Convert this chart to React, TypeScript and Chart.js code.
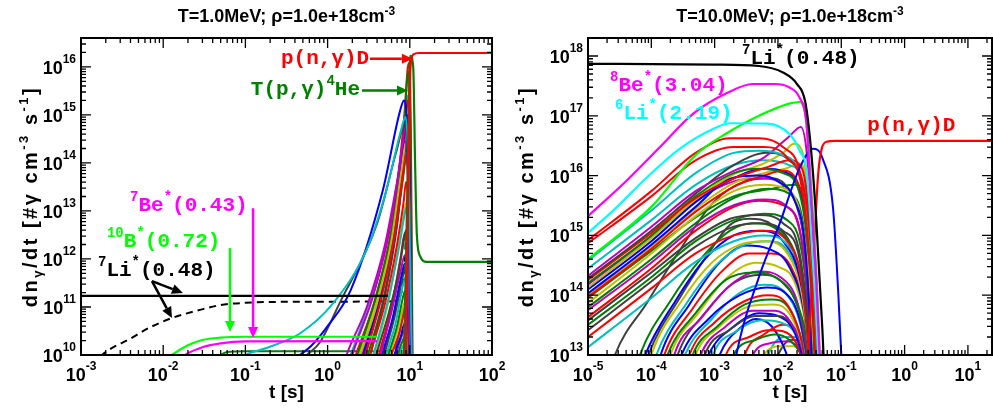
import React, { useEffect, useRef } from "react";
import { Chart, registerables } from "chart.js";

Chart.register(...registerables);

type Pt = [number, number];
type Seg = [string, number]; // 0 normal, 1 superscript, 2 subscript

const COL: Record<string, string> = {
  b: "#0000ff", g: "#008000", r: "#ff0000", c: "#00bfbf",
  m: "#bf00bf", y: "#bfbf00", k: "#404040",
};

/* ================= Left panel : T = 1.0 MeV ================= */
const leftX = [1e-3, 100];
const leftY = [1e10, 4e16];
const leftXTickExps = [-3, -2, -1, 0, 1, 2];
const leftYTickExps = [10, 11, 12, 13, 14, 15, 16];

const leftPnD: Pt[] = [[8.5, 1e8], [9.5, 1e13], [10.2, 1e16], [11, 1.8e16], [13, 1.95e16], [100, 1.95e16]];
const leftTpgHe: Pt[] = [[8.0, 1e8], [9.0, 1e12], [9.7, 1e15], [10.1, 1.7e16], [11.0, 1e16], [11.6, 1e14], [12.2, 3e12], [13.5, 1.1e12], [16, 8.7e11], [100, 8.7e11]];
const leftLi7Solid: Pt[] = [[1e-3, 1.7e11], [5.4, 1.7e11]];
const leftLi7Dashed: Pt[] = [[1.4e-3, 6e9], [1.8e-3, 1e10], [4e-3, 2.2e10], [7e-3, 3.8e10], [1.28e-2, 5.9e10], [2.8e-2, 8.7e10], [5e-2, 1.1e11], [0.1, 1.22e11], [0.3, 1.28e11], [5.2, 1.3e11], [7.5, 1.6e11], [8.6, 6e11], [9.0, 2.5e12], [9.4, 1e12], [10, 1e9]];
const leftB10: Pt[] = [[1.1e-2, 8e9], [1.28e-2, 1e10], [2e-2, 1.6e10], [3e-2, 2.05e10], [5e-2, 2.3e10], [0.1, 2.4e10], [4, 2.4e10]];
const leftBe7: Pt[] = [[1.6e-2, 8e9], [1.85e-2, 1e10], [3e-2, 1.45e10], [5e-2, 1.75e10], [0.1, 1.92e10], [4, 1.95e10]];
const leftGreenFlat: Pt[] = [[0.045, 9e9], [0.06, 1.15e10], [0.1, 1.2e10], [5, 1.2e10], [6.5, 1.4e10], [8, 5e10], [8.8, 1.2e11], [9.6, 1e10], [10.2, 1e9]];
const leftCyan: Pt[] = [[0.085, 8e9], [0.1, 1e10], [0.18, 1.4e10], [0.46, 2.8e10], [1.17, 1.2e11], [3, 1.6e12], [5.2, 2.7e13], [7.6, 4e14], [8.9, 9e14], [9.6, 1e14], [10.3, 1e11], [10.8, 1e9]];
const leftBlue: Pt[] = [[0.4, 8e9], [0.46, 1e10], [0.62, 1.5e10], [1.0, 4e10], [1.9, 2.2e11], [4.7, 2.7e13], [7.6, 1.2e15], [8.5, 2e15], [9.3, 5e14], [10.2, 1e11], [10.8, 1e9]];
const leftGray: Pt[] = [[0.5, 8e9], [0.56, 1e10], [0.8, 1.8e10], [1.4, 1.2e11], [4, 5.5e12], [6.9, 1.8e14], [8.8, 6.6e14], [9.6, 8e13], [10.4, 1e11], [10.9, 1e9]];

const leftBundleColors = "mmyrrbgrckymbkcrrgyrbmgckgrycm".split("");
const leftBundle: Pt[][] = [
  [[1.5, 5e9], [1.7, 1e10], [3, 1e11], [5, 2e12], [7, 4e13], [8.6, 3e14], [9.6, 2e13], [10.5, 1e9]],
  [[1.8, 5e9], [2.0, 1e10], [3.5, 1.5e11], [5.5, 3e12], [7.5, 8e13], [9.0, 6e14], [9.8, 5e13], [10.6, 1e9]],
  [[2.2, 5e9], [2.5, 1e10], [4, 1.2e11], [6, 2.5e12], [8, 8e13], [9.1, 3e14], [9.9, 1e13], [10.6, 1e9]],
  [[2.6, 5e9], [2.9, 1e10], [4.5, 1.5e11], [6.5, 3e12], [8.2, 5e13], [9.0, 1.5e14], [9.8, 1e13], [10.5, 1e9]],
  [[3, 5e9], [3.3, 1e10], [5, 1.2e11], [7, 2e12], [8.4, 1.5e13], [9.0, 4e13], [9.8, 3e12], [10.4, 1e9]],
  [[2.4, 5e9], [2.7, 1e10], [4.2, 1.3e11], [6.2, 3e12], [8, 1e14], [9.2, 1e15], [9.9, 1e14], [10.7, 1e9]],
  [[2.0, 5e9], [2.3, 1e10], [4, 2e11], [6.5, 8e12], [8.5, 5e14], [9.6, 8e15], [10.2, 3e14], [10.8, 1e9]],
  [[1.9, 5e9], [2.2, 1e10], [4, 2e11], [6.5, 1e13], [8.5, 8e14], [9.7, 1.2e16], [10.3, 5e14], [10.9, 1e9]],
  [[3.2, 5e9], [3.6, 1e10], [5.5, 1.5e11], [7.5, 2e12], [8.6, 8e12], [9.1, 1.2e13], [9.8, 1e12], [10.4, 1e9]],
  [[3.5, 5e9], [3.9, 1e10], [5.6, 8e10], [7.4, 6e11], [8.5, 2.5e12], [9.0, 4e12], [9.7, 3e11], [10.3, 1e9]],
  [[3.3, 5e9], [3.7, 1e10], [5.5, 1.3e11], [7.5, 2.5e12], [8.6, 1e13], [9.1, 1.5e13], [9.8, 1e12], [10.4, 1e9]],
  [[4, 5e9], [4.4, 1e10], [6, 8e10], [7.8, 6e11], [8.7, 1.2e12], [9.6, 1e11], [10.3, 1e9]],
  [[4.2, 5e9], [4.6, 1e10], [6.2, 6e10], [7.8, 4e11], [8.7, 8e11], [9.6, 6e10], [10.2, 1e9]],
  [[4.5, 5e9], [4.9, 1e10], [6.5, 6e10], [8, 3.5e11], [8.8, 6e11], [9.6, 5e10], [10.2, 1e9]],
  [[4.8, 5e9], [5.2, 1e10], [6.8, 5e10], [8.1, 2.5e11], [8.8, 4e11], [9.6, 3e10], [10.2, 1e9]],
  [[3.8, 5e9], [4.2, 1e10], [6, 1e11], [7.8, 1.2e12], [8.7, 3.5e12], [9.7, 2e11], [10.3, 1e9]],
  [[4.3, 5e9], [4.7, 1e10], [6.5, 7e10], [8, 4e11], [8.8, 7e11], [9.6, 5e10], [10.2, 1e9]],
  [[5, 5e9], [5.5, 1e10], [7, 4e10], [8.2, 1.5e11], [8.8, 2.2e11], [9.6, 2e10], [10.1, 1e9]],
  [[5.2, 5e9], [5.7, 1e10], [7.2, 3.5e10], [8.3, 1e11], [8.8, 1.3e11], [9.6, 1.5e10], [10.1, 1e9]],
  [[5.5, 5e9], [6, 1e10], [7.5, 3e10], [8.4, 7e10], [8.9, 8e10], [9.6, 1.2e10], [10.1, 1e9]],
  [[6, 5e9], [6.5, 1e10], [7.8, 2.5e10], [8.6, 4.5e10], [9.6, 1e10], [10.1, 1e9]],
  [[6.3, 5e9], [6.8, 1e10], [8, 2.5e10], [8.8, 3.5e10], [9.7, 8e9]],
  [[6.8, 5e9], [7.2, 1e10], [8.2, 2e10], [8.8, 2.5e10], [9.7, 6e9]],
  [[7, 5e9], [7.5, 1e10], [8.4, 1.6e10], [8.9, 1.8e10], [9.8, 5e9]],
  [[3.0, 5e9], [3.3, 1e10], [5, 1.8e11], [7, 5e12], [8.5, 1.2e14], [9.3, 3e14], [10, 1e13], [10.6, 1e9]],
  [[2.8, 5e9], [3.1, 1e10], [4.8, 1.5e11], [6.8, 4e12], [8.3, 5e13], [9.2, 1.6e14], [9.9, 8e12], [10.5, 1e9]],
  [[2.5, 5e9], [2.8, 1e10], [4.5, 2e11], [6.8, 6e12], [8.5, 2.5e14], [9.4, 2e15], [10.1, 8e13], [10.7, 1e9]],
  [[2.1, 5e9], [2.4, 1e10], [4, 1.6e11], [6.5, 5e12], [8.4, 2e14], [9.3, 1e15], [10, 5e13], [10.7, 1e9]],
  [[1.6, 5e9], [1.9, 1e10], [3.5, 2e11], [6, 7e12], [8.2, 3e14], [9.3, 2.5e15], [10.1, 1e14], [10.8, 1e9]],
  [[2.3, 5e9], [2.6, 1e10], [4.3, 1.8e11], [6.5, 5e12], [8.4, 1.5e14], [9.4, 5e14], [10, 2e13], [10.6, 1e9]],
];

/* ================= Right panel : T = 10.0 MeV ================= */
const rightX = [1e-5, 24];
const rightY = [1e13, 2e18];
const rightXTickExps = [-5, -4, -3, -2, -1, 0, 1];
const rightYTickExps = [13, 14, 15, 16, 17, 18];

const rightLi7: Pt[] = [[1e-5, 7.4e17], [1e-3, 7.2e17], [5e-3, 6.8e17], [1.2e-2, 5.3e17], [2e-2, 3.4e17], [2.7e-2, 1.7e17], [3.3e-2, 3e16], [4e-2, 2e15], [5e-2, 3e13], [5.8e-2, 1e12]];
const rightBe8: Pt[] = [[1e-5, 2.1e15], [4.1e-5, 8.3e15], [1.37e-4, 3e16], [4.5e-4, 1.07e17], [1.56e-3, 2.4e17], [4e-3, 3.4e17], [9e-3, 3.4e17], [1.5e-2, 3e17], [2.2e-2, 2e17], [2.8e-2, 8e16], [3.3e-2, 5e15], [4e-2, 2e14], [5e-2, 1e12]];
const rightLi6: Pt[] = [[1e-5, 1.1e15], [2.5e-5, 2.6e15], [8.5e-5, 9.3e15], [2.8e-4, 2.8e16], [9.4e-4, 6e16], [1.75e-3, 7.5e16], [6.7e-3, 7.4e16], [1.5e-2, 5e16], [2.2e-2, 2.6e16], [2.9e-2, 1e16], [3.5e-2, 5e14], [4.3e-2, 1e13], [5e-2, 1e11]];
const rightLime: Pt[] = [[1e-5, 4e14], [1e-4, 3e15], [5e-4, 2.2e16], [1.5e-3, 5e16], [5e-3, 1e17], [1.5e-2, 1.6e17], [2.2e-2, 1.7e17], [2.8e-2, 8e16], [3.4e-2, 5e15], [4.2e-2, 1e14], [5e-2, 1e12]];
const rightPnD: Pt[] = [[2e-2, 1e10], [3e-2, 1e13], [3.8e-2, 1e15], [4.3e-2, 1e16], [4.9e-2, 2.8e16], [6e-2, 3.7e16], [8e-2, 3.8e16], [24, 3.8e16]];
const rightBlue: Pt[] = [[2e-3, 5e12], [2.2e-3, 1e13], [5e-3, 2e14], [1.07e-2, 1.6e15], [2.2e-2, 1.35e16], [3.6e-2, 2.8e16], [5e-2, 2e16], [7.4e-2, 2.9e15], [9e-2, 1e14], [0.1, 1e13], [0.11, 1e12]];
const rightGray: Pt[] = [[2.2e-5, 5e12], [2.66e-5, 1e13], [8.5e-5, 7.4e13], [2.8e-4, 5.6e14], [9.4e-4, 3.5e15], [3e-3, 8e15], [8e-3, 9e15], [1.6e-2, 5e15], [2.5e-2, 1e15], [3.2e-2, 3e13], [3.8e-2, 1e12]];

const rightBundleAColors = "rrcmkrgybryg mrkgkrcbcygm".replace(/ /g, "").split("");
const rightBundleA: Pt[][] = [
  [[1e-5, 8.3e14], [1e-4, 5.5e15], [5e-4, 2.4e16], [1.75e-3, 4.2e16], [5e-3, 4.2e16], [1.2e-2, 3e16], [2.2e-2, 1.2e16], [3.2e-2, 1e15], [4.2e-2, 1e13], [5e-2, 1e11]],
  [[1e-5, 7.4e14], [1e-4, 4.5e15], [5e-4, 1.8e16], [2e-3, 3e16], [6e-3, 3e16], [1.4e-2, 2e16], [2.4e-2, 6e15], [3.3e-2, 2e14], [4e-2, 5e12], [4.6e-2, 1e11]],
  [[1e-5, 3.8e14], [1e-4, 2.6e15], [5e-4, 1.1e16], [2e-3, 2.4e16], [5e-3, 2.6e16], [1.2e-2, 2.2e16], [2.2e-2, 1e16], [3.1e-2, 1e15], [3.9e-2, 2e13], [4.6e-2, 1e11]],
  [[1e-5, 2.1e14], [1e-4, 1.4e15], [5e-4, 5.5e15], [2e-3, 1.2e16], [6e-3, 2e16], [1.5e-2, 4.5e16], [2.3e-2, 6.5e16], [2.9e-2, 2e16], [3.6e-2, 5e14], [4.4e-2, 1e12]],
  [[1e-5, 1.9e14], [1e-4, 1.2e15], [5e-4, 5e15], [2e-3, 1.5e16], [6.7e-3, 2.4e16], [1.5e-2, 1.8e16], [2.5e-2, 6e15], [3.3e-2, 3e14], [4e-2, 5e12], [4.6e-2, 1e11]],
  [[1e-5, 1.8e14], [1e-4, 1.1e15], [5e-4, 4.2e15], [2e-3, 9e15], [7e-3, 1.4e16], [1.5e-2, 1.8e16], [2.4e-2, 1.3e16], [3.3e-2, 1e15], [4.2e-2, 1e13], [4.9e-2, 1e11]],
  [[1e-5, 1.6e14], [1e-4, 1e15], [5e-4, 4.5e15], [2e-3, 1.1e16], [5e-3, 1.3e16], [1.2e-2, 1.1e16], [2.2e-2, 5e15], [3.1e-2, 4e14], [3.8e-2, 1e13], [4.4e-2, 1e11]],
  [[1e-5, 1.35e14], [1e-4, 9e14], [5e-4, 4e15], [2e-3, 1.05e16], [6e-3, 1.6e16], [1.2e-2, 2.4e16], [1.8e-2, 3.4e16], [2.4e-2, 2.6e16], [3.1e-2, 3e15], [3.8e-2, 3e13], [4.5e-2, 1e11]],
  [[1e-5, 1.07e14], [1e-4, 7e14], [5e-4, 3e15], [1.75e-3, 8.9e15], [5e-3, 1e16], [1e-2, 8e15], [1.8e-2, 4e15], [2.7e-2, 6e14], [3.4e-2, 1e13], [4e-2, 1e11]],
  [[1e-5, 9.3e13], [1e-4, 6e14], [5e-4, 2.5e15], [2e-3, 6.5e15], [6e-3, 1e16], [1.2e-2, 1.2e16], [2e-2, 8e15], [2.9e-2, 1.5e15], [3.7e-2, 3e13], [4.3e-2, 1e11]],
  [[1e-5, 7.4e13], [1e-4, 5e14], [5e-4, 2.1e15], [2e-3, 5.5e15], [6e-3, 7e15], [1.3e-2, 6e15], [2.2e-2, 2.5e15], [3.1e-2, 2e14], [3.8e-2, 5e12], [4.3e-2, 1e11]],
  [[1e-5, 6.3e13], [1e-4, 4e14], [5e-4, 1.6e15], [2e-3, 4.2e15], [7e-3, 6e15], [1.5e-2, 5e15], [2.4e-2, 2e15], [3.3e-2, 1e14], [4e-2, 1e12]],
  [[1e-5, 5.6e13], [1e-4, 3.5e14], [5e-4, 1.4e15], [2e-3, 3.2e15], [6e-3, 4e15], [1.4e-2, 3e15], [2.3e-2, 1e15], [3.1e-2, 5e13], [3.8e-2, 1e12]],
  [[1e-5, 4.3e13], [1e-4, 2.8e14], [5e-4, 1.2e15], [2e-3, 3e15], [5e-3, 3.8e15], [1.2e-2, 3.2e15], [2.2e-2, 1.2e15], [3.1e-2, 6e13], [3.8e-2, 1e12]],
  [[1e-5, 3.8e13], [1e-4, 2.4e14], [5e-4, 9e14], [1.75e-3, 1.9e15], [5e-3, 2.2e15], [1.2e-2, 1.6e15], [2.2e-2, 5e14], [3.1e-2, 2e13], [3.7e-2, 1e12]],
  [[1e-5, 3.2e13], [1e-4, 2e14], [5e-4, 8e14], [2e-3, 1.8e15], [6e-3, 2.3e15], [1.4e-2, 1.8e15], [2.4e-2, 5e14], [3.3e-2, 2e13], [4e-2, 1e12]],
  [[1e-5, 2.6e13], [1e-4, 1.7e14], [5e-4, 6.5e14], [2e-3, 1.4e15], [5e-3, 1.6e15], [1.2e-2, 1.2e15], [2.2e-2, 4e14], [3.1e-2, 2e13], [3.7e-2, 1e12]],
  [[1e-5, 2e13], [1e-4, 1.3e14], [5e-4, 5e14], [2e-3, 1e15], [6e-3, 1.2e15], [1.4e-2, 8e14], [2.3e-2, 2e14], [3.1e-2, 1e13], [3.6e-2, 1e12]],
  [[1e-5, 1.35e13], [1e-4, 9e13], [5e-4, 3.6e14], [2e-3, 8e14], [6e-3, 1e15], [1.4e-2, 7e14], [2.3e-2, 2e14], [3.1e-2, 1e13], [3.6e-2, 1e12]],
  [[1e-5, 1.25e14], [1e-4, 8e14], [5e-4, 3.6e15], [2e-3, 9e15], [6e-3, 1.3e16], [1.4e-2, 1.1e16], [2.4e-2, 4e15], [3.3e-2, 2e14], [4e-2, 2e12]],
  [[1e-5, 2.8e14], [1e-4, 1.8e15], [5e-4, 7e15], [2e-3, 1.5e16], [6e-3, 1.8e16], [1.5e-2, 1.5e16], [2.5e-2, 8e15], [3.3e-2, 8e14], [4.1e-2, 1e13], [4.8e-2, 1e11]],
  [[1e-5, 1e14], [1e-4, 6.6e14], [5e-4, 2.8e15], [2e-3, 7.5e15], [6e-3, 1.1e16], [1.3e-2, 1.3e16], [2.2e-2, 1.6e16], [2.8e-2, 8e15], [3.5e-2, 4e14], [4.2e-2, 5e12], [4.8e-2, 1e11]],
  [[1e-5, 9e13], [1e-4, 5.5e14], [5e-4, 2e15], [2e-3, 4.5e15], [8e-3, 6e15], [1.8e-2, 7e15], [2.6e-2, 4e15], [3.4e-2, 2e14], [4.1e-2, 2e12]],
  [[1e-5, 1.5e14], [1e-4, 9.5e14], [5e-4, 3.8e15], [2e-3, 8e15], [6e-3, 9e15], [1.2e-2, 7e15], [2e-2, 3e15], [2.9e-2, 3e14], [3.6e-2, 5e12]],
];

const rightBundleBColors = "gbkycbrgymkbcrgymkbcrgrbmykc".split("");
const rightBundleB: Pt[][] = [
  [[5.5e-5, 5e12], [6.6e-5, 1e13], [2e-4, 8e13], [6e-4, 4e14], [1.75e-3, 1.2e15], [4e-3, 1.6e15], [1e-2, 1.2e15], [2e-2, 4e14], [3.2e-2, 3e13], [4e-2, 1e12]],
  [[6.5e-5, 5e12], [8e-5, 1e13], [2.4e-4, 8e13], [7e-4, 4e14], [2e-3, 1e15], [5e-3, 1.2e15], [1.2e-2, 8e14], [2.2e-2, 2e14], [3.2e-2, 1.5e13], [3.8e-2, 1e12]],
  [[7.5e-5, 5e12], [9e-5, 1e13], [2.8e-4, 9e13], [8e-4, 5e14], [1.75e-3, 1.5e15], [3.5e-3, 1.9e15], [8e-3, 1.5e15], [1.8e-2, 5e14], [3e-2, 3e13], [3.7e-2, 1e12]],
  [[8.5e-5, 5e12], [1e-4, 1e13], [3e-4, 8e13], [9e-4, 3.5e14], [2.5e-3, 7e14], [6e-3, 8e14], [1.4e-2, 5e14], [2.4e-2, 1e14], [3.4e-2, 5e12]],
  [[1e-4, 5e12], [1.2e-4, 1e13], [3.5e-4, 7e13], [1e-3, 3e14], [3e-3, 7e14], [7e-3, 8e14], [1.5e-2, 5e14], [2.5e-2, 1e14], [3.5e-2, 5e12]],
  [[1.2e-4, 5e12], [1.4e-4, 1e13], [4e-4, 7e13], [1.2e-3, 3.5e14], [3.2e-3, 6.8e14], [7e-3, 6e14], [1.5e-2, 3e14], [2.6e-2, 5e13], [3.5e-2, 3e12]],
  [[1.35e-4, 5e12], [1.6e-4, 1e13], [4.5e-4, 6e13], [1.3e-3, 2.5e14], [3.5e-3, 5e14], [8e-3, 5e14], [1.6e-2, 3e14], [2.7e-2, 5e13], [3.7e-2, 3e12]],
  [[1.5e-4, 5e12], [1.8e-4, 1e13], [5e-4, 5e13], [1.5e-3, 1.8e14], [4e-3, 2.4e14], [9e-3, 2e14], [1.8e-2, 9e13], [2.9e-2, 1.5e13], [3.7e-2, 1e12]],
  [[1.7e-4, 5e12], [2e-4, 1e13], [5.5e-4, 5e13], [1.6e-3, 2e14], [4.5e-3, 3.5e14], [1e-2, 3e14], [1.9e-2, 1.5e14], [2.9e-2, 2e13], [3.7e-2, 1e12]],
  [[2e-4, 5e12], [2.3e-4, 1e13], [6e-4, 4e13], [1.8e-3, 1.5e14], [5e-3, 2.5e14], [1.1e-2, 2e14], [2e-2, 8e13], [3.2e-2, 8e12]],
  [[2.2e-4, 5e12], [2.6e-4, 1e13], [7e-4, 5e13], [2e-3, 1.6e14], [5.5e-3, 2.2e14], [1.2e-2, 1.6e14], [2.2e-2, 5e13], [3.2e-2, 5e12]],
  [[2.5e-4, 5e12], [3e-4, 1e13], [8e-4, 4e13], [2.5e-3, 1e14], [6.7e-3, 1.35e14], [1.3e-2, 1.1e14], [2.2e-2, 4e13], [3.2e-2, 5e12]],
  [[2.8e-4, 5e12], [3.4e-4, 1e13], [9e-4, 4e13], [2.5e-3, 1.1e14], [6e-3, 1.5e14], [1.3e-2, 1.1e14], [2.3e-2, 3e13], [3.3e-2, 3e12]],
  [[3.4e-4, 5e12], [4e-4, 1e13], [1e-3, 3.5e13], [3e-3, 8e13], [7e-3, 1e14], [1.4e-2, 7e13], [2.3e-2, 2e13], [3.2e-2, 3e12]],
  [[3.8e-4, 5e12], [4.5e-4, 1e13], [1.1e-3, 3e13], [3e-3, 7e13], [8e-3, 8.5e13], [1.5e-2, 6e13], [2.4e-2, 1.6e13], [3.3e-2, 2e12]],
  [[4.2e-4, 5e12], [5e-4, 1e13], [1.2e-3, 3e13], [3.5e-3, 6.5e13], [8e-3, 7e13], [1.5e-2, 5e13], [2.4e-2, 1.5e13], [3.2e-2, 3e12]],
  [[5e-4, 5e12], [6e-4, 1e13], [1.5e-3, 3e13], [4e-3, 5.5e13], [9e-3, 5.5e13], [1.6e-2, 3.5e13], [2.5e-2, 1.1e13], [3.2e-2, 2e12]],
  [[6e-4, 5e12], [7e-4, 1e13], [1.7e-3, 2.6e13], [4.5e-3, 4.5e13], [1e-2, 4.5e13], [1.8e-2, 2.8e13], [2.7e-2, 8e12], [3.4e-2, 1e12]],
  [[6.5e-4, 5e12], [8e-4, 1e13], [2e-3, 3e13], [5e-3, 5e13], [1e-2, 4.5e13], [1.8e-2, 2.5e13], [2.8e-2, 6e12]],
  [[8e-4, 5e12], [9.4e-4, 1e13], [2.2e-3, 2.5e13], [5.5e-3, 3.8e13], [1.1e-2, 3.5e13], [2e-2, 2e13], [3e-2, 5e12]],
  [[1.3e-3, 5e12], [1.5e-3, 1e13], [3.5e-3, 2e13], [7e-3, 2.6e13], [1.2e-2, 2.5e13], [2e-2, 1.5e13], [3e-2, 4e12]],
  [[1.7e-3, 5e12], [2e-3, 1e13], [4.5e-3, 1.8e13], [9e-3, 2.2e13], [1.5e-2, 1.8e13], [2.3e-2, 1e13], [3.2e-2, 3e12]],
  [[2.6e-3, 5e12], [3e-3, 1e13], [6e-3, 2.2e13], [1.2e-2, 3.2e13], [2e-2, 2.5e13], [2.8e-2, 1e13], [3.6e-2, 2e12]],
  [[1e-3, 5e12], [1.2e-3, 1e13], [2.5e-3, 2.8e13], [4.5e-3, 4e13], [8e-3, 3e13], [1.3e-2, 1.2e13], [1.8e-2, 4e12]],
  [[3.4e-3, 5e12], [4e-3, 1e13], [8e-3, 1.6e13], [1.4e-2, 1.7e13], [2.2e-2, 1.2e13], [3e-2, 5e12]],
  [[5e-3, 5e12], [6e-3, 1e13], [1.1e-2, 1.4e13], [1.8e-2, 1.4e13], [2.6e-2, 8e12], [3.2e-2, 3e12]],
  [[8e-3, 5e12], [1e-2, 1e13], [1.6e-2, 1.8e13], [2.4e-2, 1.6e13], [3.2e-2, 8e12], [4e-2, 2e12]],
  [[6e-3, 5e12], [7e-3, 1e13], [1.3e-2, 2e13], [2.2e-2, 2e13], [3.2e-2, 1e13], [4.2e-2, 2e12]],
];

/* ================= Text / annotation definitions ================= */
const SANS = '"Liberation Sans", Arial, Helvetica, sans-serif';
const MONO = '"Liberation Mono", "Courier New", monospace';

const yTitleSegs: Seg[] = [["dn", 0], ["γ", 2], ["/dt [#", 0], ["γ", 0], [" cm", 0], ["-3", 1], [" s", 0], ["-1", 1], ["]", 0]];

type Ann =
  | { kind: "text"; segs: Seg[]; at: Pt; align: "left" | "right"; color: string }
  | { kind: "arrow"; from: Pt; to: Pt; color: string };

const leftAnnotations: Ann[] = [
  { kind: "text", segs: [["p(n,γ)D", 0]], at: [0.271, 1.17e16], align: "left", color: "#ff0000" },
  { kind: "arrow", from: [3.28, 1.48e16], to: [10.9, 1.48e16], color: "#ff0000" },
  { kind: "text", segs: [["T(p,γ)", 0], ["4", 1], ["He", 0]], at: [2.48, 2.54e15], align: "right", color: "#008000" },
  { kind: "arrow", from: [2.62, 3.24e15], to: [9.5, 3.24e15], color: "#008000" },
  { kind: "text", segs: [["7", 1], ["Be", 0], ["*", 1], ["(0.43)", 0]], at: [3.95e-3, 9.9e12], align: "left", color: "#ff00ff" },
  { kind: "arrow", from: [0.124, 1.14e13], to: [0.124, 2.25e10], color: "#ff00ff" },
  { kind: "text", segs: [["10", 1], ["B", 0], ["*", 1], ["(0.72)", 0]], at: [2.07e-3, 1.76e12], align: "left", color: "#00ff00" },
  { kind: "arrow", from: [0.065, 1.68e12], to: [0.065, 3e10], color: "#00ff00" },
  { kind: "text", segs: [["7", 1], ["Li", 0], ["*", 1], ["(0.48)", 0]], at: [1.61e-3, 4.38e11], align: "left", color: "#000000" },
  { kind: "arrow", from: [7.3e-3, 3.45e11], to: [1.74e-2, 1.95e11], color: "#000000" },
  { kind: "arrow", from: [7.3e-3, 3.45e11], to: [1.28e-2, 5.9e10], color: "#000000" },
];

const rightAnnotations: Ann[] = [
  { kind: "text", segs: [["7", 1], ["Li", 0], ["*", 1], ["(0.48)", 0]], at: [2.71e-3, 7.36e17], align: "left", color: "#000000" },
  { kind: "text", segs: [["8", 1], ["Be", 0], ["*", 1], ["(3.04)", 0]], at: [2.23e-5, 2.61e17], align: "left", color: "#ff00ff" },
  { kind: "text", segs: [["6", 1], ["Li", 0], ["*", 1], ["(2.19)", 0]], at: [2.67e-5, 8.9e16], align: "left", color: "#00ffff" },
  { kind: "text", segs: [["p(n,γ)D", 0]], at: [0.256, 5.6e16], align: "left", color: "#ff0000" },
];

/* ================= Drawing helpers ================= */
function drawRich(
  ctx: CanvasRenderingContext2D, segs: Seg[], x: number, y: number,
  align: "left" | "center" | "right", fam: string, size: number, small: number,
  rise: number, drop: number, color: string, spacing = 0
) {
  const fontFor = (k: number) => `bold ${k === 0 ? size : small}px ${fam}`;
  const widths = segs.map(([t, k]) => {
    ctx.font = fontFor(k);
    if (!spacing) return ctx.measureText(t).width;
    let w = 0;
    for (const ch of t) w += ctx.measureText(ch).width + spacing;
    return w;
  });
  const total = widths.reduce((s, w) => s + w, 0);
  let cx = align === "left" ? x : align === "center" ? x - total / 2 : x - total;
  ctx.fillStyle = color;
  ctx.textAlign = "left";
  ctx.textBaseline = "alphabetic";
  segs.forEach(([t, k], i) => {
    ctx.font = fontFor(k);
    const yy = y + (k === 1 ? -rise : k === 2 ? drop : 0);
    if (spacing) {
      let px = cx;
      for (const ch of t) {
        ctx.fillText(ch, px, yy);
        px += ctx.measureText(ch).width + spacing;
      }
    } else ctx.fillText(t, cx, yy);
    cx += widths[i];
  });
}

function drawArrow(ctx: CanvasRenderingContext2D, x0: number, y0: number, x1: number, y1: number, color: string) {
  const ang = Math.atan2(y1 - y0, x1 - x0);
  const L = 11, W = 5;
  const bx = x1 - L * Math.cos(ang), by = y1 - L * Math.sin(ang);
  ctx.strokeStyle = color;
  ctx.lineWidth = 2.5;
  ctx.beginPath();
  ctx.moveTo(x0, y0);
  ctx.lineTo(bx, by);
  ctx.stroke();
  ctx.fillStyle = color;
  ctx.beginPath();
  ctx.moveTo(x1, y1);
  ctx.lineTo(bx - W * Math.sin(ang), by + W * Math.cos(ang));
  ctx.lineTo(bx + W * Math.sin(ang), by - W * Math.cos(ang));
  ctx.closePath();
  ctx.fill();
}

type PanelCfg = {
  xRange: number[]; yRange: number[]; xExps: number[]; yExps: number[];
  title: Seg[]; yTitleX: number; anns: Ann[]; datasets: any[];
  padding: { left: number; right: number; top: number; bottom: number };
};

function makeDecor(cfg: PanelCfg) {
  return {
    id: "decor",
    afterDatasetsDraw(chart: any) {
      const ctx: CanvasRenderingContext2D = chart.ctx;
      const a = chart.chartArea;
      const xs = chart.scales.x, ys = chart.scales.y;
      ctx.save();
      // minor/major ticks, inward on all four sides
      ctx.strokeStyle = "#000";
      ctx.lineWidth = 1.3;
      const ticks = (scale: any, min: number, max: number, horiz: boolean) => {
        for (let d = Math.floor(Math.log10(min)); d <= Math.ceil(Math.log10(max)); d++) {
          for (let k = 1; k <= 9; k++) {
            const v = k * Math.pow(10, d);
            if (v < min * 0.999 || v > max * 1.001) continue;
            const p = scale.getPixelForValue(v);
            const len = k === 1 ? 10 : 5;
            ctx.beginPath();
            if (horiz) {
              ctx.moveTo(p, a.bottom); ctx.lineTo(p, a.bottom - len);
              ctx.moveTo(p, a.top); ctx.lineTo(p, a.top + len);
            } else {
              ctx.moveTo(a.left, p); ctx.lineTo(a.left + len, p);
              ctx.moveTo(a.right, p); ctx.lineTo(a.right - len, p);
            }
            ctx.stroke();
          }
        }
      };
      ticks(xs, cfg.xRange[0], cfg.xRange[1], true);
      ticks(ys, cfg.yRange[0], cfg.yRange[1], false);
      // frame
      ctx.lineWidth = 2;
      ctx.strokeRect(a.left, a.top, a.right - a.left, a.bottom - a.top);
      // tick labels
      for (const e of cfg.xExps) {
        const px = xs.getPixelForValue(Math.pow(10, e));
        drawRich(ctx, [["10", 0], [String(e), 1]], px, a.bottom + 26, "center", SANS, 18, 12, 11, 0, "#000");
      }
      for (const e of cfg.yExps) {
        const py = ys.getPixelForValue(Math.pow(10, e));
        drawRich(ctx, [["10", 0], [String(e), 1]], a.left - 5, py + 7, "right", SANS, 18, 12, 11, 0, "#000");
      }
      // titles
      const cxp = (a.left + a.right) / 2;
      drawRich(ctx, cfg.title, cxp, 22, "center", SANS, 18, 12, 7, 0, "#000");
      drawRich(ctx, [["t [s]", 0]], cxp, 398, "center", SANS, 19, 13, 0, 0, "#000");
      ctx.save();
      ctx.translate(cfg.yTitleX, (a.top + a.bottom) / 2);
      ctx.rotate(-Math.PI / 2);
      drawRich(ctx, yTitleSegs, 0, 0, "center", SANS, 20, 13, 9, 5, "#000", 2.5);
      ctx.restore();
      // annotations
      for (const an of cfg.anns) {
        if (an.kind === "arrow") {
          drawArrow(ctx, xs.getPixelForValue(an.from[0]), ys.getPixelForValue(an.from[1]),
            xs.getPixelForValue(an.to[0]), ys.getPixelForValue(an.to[1]), an.color);
        } else {
          drawRich(ctx, an.segs, xs.getPixelForValue(an.at[0]), ys.getPixelForValue(an.at[1]),
            an.align, MONO, 21, 14, 10, 0, an.color);
        }
      }
      ctx.restore();
    },
  };
}

function ds(pts: Pt[], color: string, width = 2, dash: number[] = []) {
  return {
    data: pts.map(([x, y]) => ({ x, y })),
    borderColor: color,
    borderWidth: width,
    borderDash: dash,
    pointRadius: 0,
    pointHoverRadius: 0,
    fill: false,
    tension: 0,
    cubicInterpolationMode: "monotone",
  };
}

const leftCfg: PanelCfg = {
  xRange: leftX, yRange: leftY, xExps: leftXTickExps, yExps: leftYTickExps,
  title: [["T=1.0MeV; ρ=1.0e+18cm", 0], ["-3", 1]],
  yTitleX: 37,
  anns: leftAnnotations,
  padding: { left: 81, right: 28, top: 38, bottom: 53 },
  datasets: [
    ds(leftPnD, "#ff0000", 2.2),
    ds(leftTpgHe, "#008000", 2.2),
    ds(leftLi7Solid, "#000000", 2.2),
    ds(leftB10, "#00ff00", 2.2),
    ds(leftBe7, "#ff00ff", 2.2),
    ds(leftCyan, COL.c),
    ds(leftBlue, COL.b),
    ds(leftGray, COL.k),
    ...leftBundle.map((p, i) => ds(p, COL[leftBundleColors[i % leftBundleColors.length]])),
    ds(leftGreenFlat, COL.g),
    ds(leftLi7Dashed, "#000000", 2, [7, 5]),
  ],
};

const rightCfg: PanelCfg = {
  xRange: rightX, yRange: rightY, xExps: rightXTickExps, yExps: rightYTickExps,
  title: [["T=10.0MeV; ρ=1.0e+18cm", 0], ["-3", 1]],
  yTitleX: 37,
  anns: rightAnnotations,
  padding: { left: 92, right: 1, top: 38, bottom: 53 },
  datasets: [
    ds(rightLi7, "#000000", 2.2),
    ds(rightBe8, "#ff00ff", 2.2),
    ds(rightLi6, "#00ffff", 2.2),
    ds(rightLime, "#00ff00", 2.2),
    ds(rightPnD, "#ff0000", 2.2),
    ds(rightBlue, COL.b),
    ...rightBundleA.map((p, i) => ds(p, COL[rightBundleAColors[i % rightBundleAColors.length]])),
    ds(rightGray, COL.k),
    ...rightBundleB.map((p, i) => ds(p, COL[rightBundleBColors[i % rightBundleBColors.length]])),
  ],
};

function Panel({ cfg, left, width }: { cfg: PanelCfg; left: number; width: number }) {
  const ref = useRef<HTMLCanvasElement>(null);
  useEffect(() => {
    const chart = new Chart(ref.current as HTMLCanvasElement, {
      type: "line",
      data: { datasets: cfg.datasets as any },
      options: {
        animation: false,
        responsive: false,
        devicePixelRatio: 1,
        events: [],
        layout: { padding: cfg.padding },
        plugins: { legend: { display: false }, tooltip: { enabled: false }, title: { display: false } },
        scales: {
          x: { type: "logarithmic", min: cfg.xRange[0], max: cfg.xRange[1], display: false },
          y: { type: "logarithmic", min: cfg.yRange[0], max: cfg.yRange[1], display: false },
        },
      } as any,
      plugins: [makeDecor(cfg)],
    });
    return () => chart.destroy();
  }, []);
  return (
    <canvas
      ref={ref}
      width={width}
      height={408}
      style={{ position: "absolute", left, top: 0, width, height: 408 }}
    />
  );
}

export default function App() {
  return (
    <div style={{ position: "absolute", left: 0, top: 0, width: 993, height: 408, background: "#ffffff", overflow: "hidden" }}>
      <Panel cfg={leftCfg} left={0} width={520} />
      <Panel cfg={rightCfg} left={496} width={497} />
    </div>
  );
}
